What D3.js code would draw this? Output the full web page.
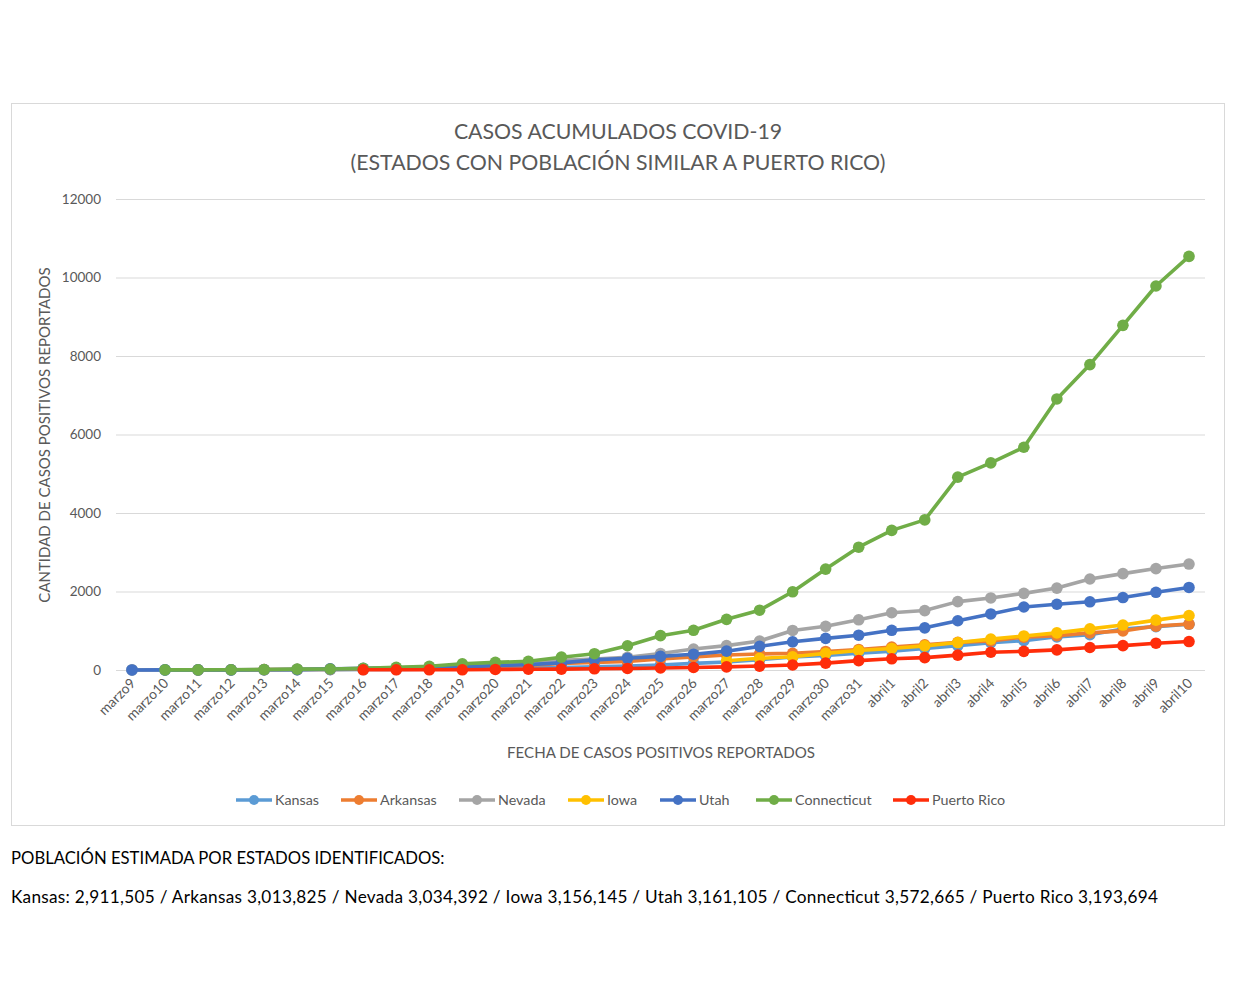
<!DOCTYPE html>
<html>
<head>
<meta charset="utf-8">
<script src="https://cdn.jsdelivr.net/npm/d3@7"></script>
<style>
  body { margin: 0; background: #fff; }
  text { font-family: Lato, "Open Sans", sans-serif; }
</style>
</head>
<body>
<div id="chart"></div>
<script>
const days = ["marzo9","marzo10","marzo11","marzo12","marzo13","marzo14","marzo15","marzo16","marzo17","marzo18",
  "marzo19","marzo20","marzo21","marzo22","marzo23","marzo24","marzo25","marzo26","marzo27","marzo28",
  "marzo29","marzo30","marzo31","abril1","abril2","abril3","abril4","abril5","abril6","abril7",
  "abril8","abril9","abril10"]

// null = no data for that day
const kansas = [1,1,1,1,5,8,8,11,17,21,34,44,55,64,82,98,126,168,202,261,330,372,428,482,552,620,698,747,845,900,1046,1106,1166]
const arkansas = [null,null,1,6,9,12,16,22,33,62,96,100,118,165,192,219,280,335,381,409,426,473,523,584,643,704,743,837,875,946,997,1119,1171]
const nevada = [4,4,5,7,14,21,24,45,56,83,109,161,190,245,278,321,420,535,621,738,1008,1113,1279,1458,1514,1742,1836,1953,2087,2318,2456,2584,2700]
const iowa = [null,null,null,null,null,null,null,null,null,null,null,null,null,null,null,null,null,null,235,298,336,424,497,549,614,699,786,868,946,1048,1145,1270,1388]
const utah = [1,2,2,3,6,10,28,39,51,63,78,112,136,181,257,298,346,402,480,602,719,806,887,1012,1074,1255,1428,1605,1675,1738,1846,1980,2103]
const connecticut = [null,2,3,5,11,22,26,41,68,96,159,194,223,327,415,618,875,1012,1291,1524,1993,2571,3128,3557,3824,4914,5276,5675,6906,7781,8781,9784,10538]
const puertoRico = [null,null,null,null,null,null,null,5,5,5,5,14,21,23,31,39,51,64,79,100,127,174,239,286,316,378,452,475,513,573,620,683,725]

const yTicks = [0,2000,4000,6000,8000,10000,12000]

const series = [
  { name: "Kansas", color: "#5b9bd5", values: kansas },
  { name: "Arkansas", color: "#ed7d31", values: arkansas },
  { name: "Nevada", color: "#a5a5a5", values: nevada },
  { name: "Iowa", color: "#ffc000", values: iowa },
  { name: "Utah", color: "#4472c4", values: utah },
  { name: "Connecticut", color: "#70ad47", values: connecticut },
  { name: "Puerto Rico", color: "#ff2d0a", values: puertoRico }
]

const width = 1242, height = 983
const grey = "#595959"

const svg = d3.select("#chart").append("svg")
    .attr("width", width)
    .attr("height", height)

// chart frame
svg.append("rect")
    .attr("x", 11.5).attr("y", 103.5)
    .attr("width", 1213).attr("height", 722)
    .attr("fill", "#fff")
    .attr("stroke", "#d9d9d9")

svg.append("text")
    .attr("x", 618).attr("y", 139)
    .attr("text-anchor", "middle")
    .attr("font-size", 21.3).attr("fill", grey)
    .text("CASOS ACUMULADOS COVID-19")
svg.append("text")
    .attr("x", 618).attr("y", 170)
    .attr("text-anchor", "middle")
    .attr("font-size", 21.3).attr("fill", grey)
    .text("(ESTADOS CON POBLACIÓN SIMILAR A PUERTO RICO)")

const x = d3.scalePoint()
    .domain(days)
    .range([132, 1189])

const y = d3.scaleLinear()
    .domain([0, 12000])
    .range([670, 199])

// gridlines
svg.append("g")
    .selectAll("line")
    .data(yTicks)
    .join("line")
    .attr("x1", 116).attr("x2", 1205)
    .attr("y1", d => y(d) + 0.5).attr("y2", d => y(d) + 0.5)
    .attr("stroke", "#d9d9d9")

// y axis labels
let yAxis = svg.append("g")
    .attr("transform", "translate(116,0)")
    .call(d3.axisLeft(y).tickValues(yTicks).tickSize(0).tickPadding(15).tickFormat(d3.format("d")))
yAxis.select(".domain").remove()
yAxis.selectAll("text")
    .attr("font-size", 13.5).attr("fill", grey)
    .style("font-family", "Lato, sans-serif")

// x axis labels
let xAxis = svg.append("g")
    .attr("transform", "translate(0,670)")
    .call(d3.axisBottom(x).tickSize(0).tickPadding(0))
xAxis.select(".domain").remove()
xAxis.selectAll("text")
    .attr("font-size", 13.8).attr("fill", grey)
    .style("font-family", "Lato, sans-serif")
    .attr("text-anchor", "end")
    .attr("dy", null)
    .attr("transform", "translate(4,14) rotate(-45)")

svg.append("text")
    .attr("transform", "translate(50,435) rotate(-90)")
    .attr("text-anchor", "middle")
    .attr("font-size", 15).attr("fill", grey)
    .text("CANTIDAD DE CASOS POSITIVOS REPORTADOS")

svg.append("text")
    .attr("x", 661).attr("y", 758)
    .attr("text-anchor", "middle")
    .attr("font-size", 15.1).attr("fill", grey)
    .text("FECHA DE CASOS POSITIVOS REPORTADOS")

// lines + markers
const line = d3.line()
    .defined(d => d.v != null)
    .x(d => x(d.day))
    .y(d => y(d.v))

series.forEach(s => {
    let pts = s.values.map((v, i) => ({ day: days[i], v: v }))
    let g = svg.append("g")
    g.append("path")
        .attr("d", line(pts))
        .attr("fill", "none")
        .attr("stroke", s.color)
        .attr("stroke-width", 3.6)
        .attr("stroke-linejoin", "round")
    g.selectAll("circle")
        .data(pts.filter(d => d.v != null))
        .join("circle")
        .attr("cx", d => x(d.day))
        .attr("cy", d => y(d.v))
        .attr("r", 5.8)
        .attr("fill", s.color)
})

// legend
const legendX = [236, 341, 459, 568, 660, 756, 893]
let legend = svg.append("g")
series.forEach((s, i) => {
    let lg = legend.append("g").attr("transform", "translate(" + legendX[i] + ",800)")
    lg.append("line")
        .attr("x1", 0).attr("x2", 36)
        .attr("stroke", s.color).attr("stroke-width", 3.5)
    lg.append("circle")
        .attr("cx", 18).attr("r", 5)
        .attr("fill", s.color)
    lg.append("text")
        .attr("x", 39).attr("y", 5)
        .attr("font-size", 14.3).attr("fill", grey)
        .text(s.name)
})

svg.append("text")
    .attr("x", 11).attr("y", 864)
    .attr("font-size", 16.7).attr("fill", "#000")
    .text("POBLACIÓN ESTIMADA POR ESTADOS IDENTIFICADOS:")

svg.append("text")
    .attr("x", 11).attr("y", 903)
    .attr("font-size", 17.2).attr("fill", "#000")
    .attr("textLength", 1147)
    .attr("lengthAdjust", "spacing")
    .text("Kansas: 2,911,505 / Arkansas 3,013,825 / Nevada 3,034,392 / Iowa 3,156,145 / Utah 3,161,105 / Connecticut 3,572,665 / Puerto Rico 3,193,694")
</script>
</body>
</html>
